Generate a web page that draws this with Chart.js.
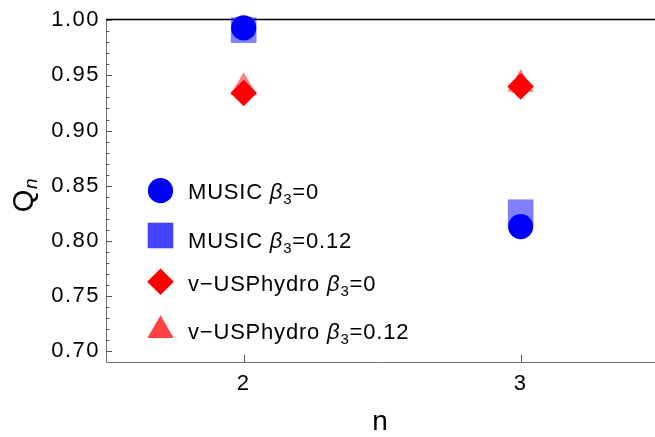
<!DOCTYPE html>
<html>
<head>
<meta charset="utf-8">
<script src="https://cdn.jsdelivr.net/npm/chart.js@4.4.1/dist/chart.umd.min.js"></script>
<style>
  html, body { margin: 0; padding: 0; background: #ffffff; }
  #c { display: block; }
</style>
</head>
<body>
<canvas id="c" width="655" height="437"></canvas>
<script>
// Harmonic index n on the x axis
const nValues = [2, 3];

// Q_n for each model / deformation
const musicBeta0 = [0.993, 0.813];
const musicBeta012 = [0.991, 0.826];
const vusBeta0 = [0.934, 0.940];
const vusBeta012 = [0.939, 0.942];

// Legend text pieces: model name and beta_3 value
const seriesNames = ['MUSIC', 'MUSIC', 'v\u2212USPhydro', 'v\u2212USPhydro'];
const betaValues = ['0', '0.12', '0', '0.12'];

// Axis ticks
const yTicks = [0.70, 0.75, 0.80, 0.85, 0.90, 0.95, 1.00];
const yMinorStep = 0.01;
const xTicks = [2, 3];

const FONT = "'Liberation Sans', Arial, Helvetica, sans-serif";

function pts(ys) {
  return nValues.map((n, i) => ({ x: n, y: ys[i] }));
}

// marker style per series (plot and legend)
const markers = [
  { style: 'circle',   radius: 12.6, color: '#0000ff',               legendColor: '#0000ff' },
  { style: 'rect',     radius: 18.1, color: 'rgba(0,0,255,0.5)',     legendColor: 'rgba(0,0,255,0.74)' },
  { style: 'rectRot',  radius: 13.3, color: '#ff0000',               legendColor: '#ff0000' },
  { style: 'triangle', radius: 15.2, color: 'rgba(255,0,0,0.5)',     legendColor: 'rgba(255,0,0,0.74)' }
];
const seriesData = [musicBeta0, musicBeta012, vusBeta0, vusBeta012];

const datasets = seriesData.map((ys, i) => ({
  label: seriesNames[i] + ' \u03b2' + '3=' + betaValues[i],
  data: pts(ys),
  pointStyle: markers[i].style,
  pointRadius: markers[i].radius,
  pointHoverRadius: markers[i].radius,
  pointBackgroundColor: markers[i].color,
  pointBorderWidth: 0,
  pointBorderColor: 'rgba(0,0,0,0)',
  showLine: false,
  clip: false
}));

function drawMarker(ctx, m, x, y, color) {
  const opts = { pointStyle: m.style, radius: m.radius, rotation: 0, borderWidth: 0 };
  ctx.save();
  ctx.fillStyle = color;
  ctx.strokeStyle = 'rgba(0,0,0,0)';
  ctx.lineWidth = 0;
  if (Chart.helpers && Chart.helpers.drawPoint) {
    Chart.helpers.drawPoint(ctx, opts, x, y);
  } else {
    ctx.beginPath();
    ctx.arc(x, y, m.radius, 0, Math.PI * 2);
    ctx.fill();
  }
  ctx.restore();
}

// axes frame, tick marks, axis titles and the in-plot legend
const framePlugin = {
  id: 'frame',
  beforeDraw(chart) {
    chart.ctx.letterSpacing = '1.5px';
  },
  beforeDatasetsDraw(chart) {
    const { ctx, chartArea: a, scales: { x, y } } = chart;
    ctx.save();
    ctx.letterSpacing = '0px';
    // top frame line
    ctx.strokeStyle = '#000';
    ctx.lineWidth = 1.5;
    ctx.beginPath();
    ctx.moveTo(a.left, a.top + 0.25);
    ctx.lineTo(a.right, a.top + 0.25);
    ctx.stroke();
    // left and bottom axes
    ctx.strokeStyle = '#6f6f6f';
    ctx.lineWidth = 1;
    ctx.beginPath();
    ctx.moveTo(a.left + 0.5, a.top + 1);
    ctx.lineTo(a.left + 0.5, a.bottom + 0.5);
    ctx.lineTo(a.right, a.bottom + 0.5);
    ctx.stroke();
    // y ticks: major every 0.05, minor every 0.01
    ctx.strokeStyle = '#555';
    const first = yTicks[0];
    const count = Math.round((yTicks[yTicks.length - 1] - first) / yMinorStep);
    ctx.beginPath();
    for (let i = 0; i <= count; i++) {
      const v = first + i * yMinorStep;
      const py = Math.round(y.getPixelForValue(v)) + 0.5;
      const len = (i % 5 === 0) ? 6 : 3.5;
      ctx.moveTo(a.left, py);
      ctx.lineTo(a.left + len, py);
    }
    // x ticks
    xTicks.forEach(v => {
      const px = Math.round(x.getPixelForValue(v)) + 0.5;
      ctx.moveTo(px, a.bottom);
      ctx.lineTo(px, a.bottom - 7);
    });
    ctx.stroke();
    ctx.restore();
  },
  afterDraw(chart) {
    const { ctx, chartArea: a } = chart;
    ctx.save();
    ctx.fillStyle = '#000';
    ctx.letterSpacing = '0.8px';

    // x axis title
    ctx.font = `28px ${FONT}`;
    ctx.textAlign = 'center';
    ctx.textBaseline = 'alphabetic';
    ctx.fillText('n', (a.left + a.right) / 2, 430);

    // y axis title Q_n
    ctx.save();
    ctx.translate(33, 195);
    ctx.rotate(-Math.PI / 2);
    ctx.textAlign = 'left';
    ctx.font = `29px ${FONT}`;
    const wQ = ctx.measureText('Q').width;
    ctx.font = `italic 19px ${FONT}`;
    const wN = ctx.measureText('n').width;
    const start = -(wQ + wN) / 2;
    ctx.font = `29px ${FONT}`;
    ctx.fillText('Q', start, 0);
    ctx.font = `italic 19px ${FONT}`;
    ctx.fillText('n', start + wQ, 4);
    ctx.restore();

    // legend
    const markerX = 160.5;
    const markerY = [190.7, 235.5, 281.7, 330.5];
    const textY = [199, 248, 291, 339];
    const textX = 188;
    ctx.textAlign = 'left';
    markers.forEach((m, i) => {
      drawMarker(ctx, m, markerX, markerY[i], m.legendColor);
      let cx = textX;
      ctx.font = `22px ${FONT}`;
      const head = seriesNames[i] + ' ';
      ctx.fillText(head, cx, textY[i]);
      cx += ctx.measureText(head).width;
      ctx.font = `italic 22px ${FONT}`;
      ctx.fillText('\u03b2', cx, textY[i]);
      cx += ctx.measureText('\u03b2').width;
      ctx.font = `15px ${FONT}`;
      ctx.fillText('3', cx, textY[i] + 5);
      cx += ctx.measureText('3').width;
      ctx.font = `22px ${FONT}`;
      ctx.fillText('=' + betaValues[i], cx, textY[i]);
    });
    ctx.restore();
  }
};

new Chart(document.getElementById('c'), {
  type: 'scatter',
  data: { datasets },
  options: {
    responsive: false,
    animation: false,
    events: [],
    layout: { padding: { top: 19, left: 0, right: 0, bottom: 0 }, autoPadding: false },
    plugins: { legend: { display: false }, tooltip: { enabled: false } },
    scales: {
      x: {
        type: 'linear',
        min: 1.503,
        max: 3.485,
        afterBuildTicks: s => { s.ticks = xTicks.map(v => ({ value: v })); },
        afterFit: s => { s.height = 75; },
        grid: { display: false, drawTicks: false },
        border: { display: false },
        ticks: {
          color: '#000',
          padding: 9,
          font: { family: FONT, size: 22 },
          callback: v => String(v),
          maxRotation: 0
        }
      },
      y: {
        type: 'linear',
        min: 0.6903,
        max: 1.0009,
        afterBuildTicks: s => { s.ticks = yTicks.map(v => ({ value: v })); },
        afterFit: s => { s.width = 106; },
        grid: { display: false, drawTicks: false },
        border: { display: false },
        ticks: {
          color: '#000',
          padding: 6,
          font: { family: FONT, size: 22 },
          callback: v => Number(v).toFixed(2)
        }
      }
    }
  },
  plugins: [framePlugin]
});
</script>
</body>
</html>
